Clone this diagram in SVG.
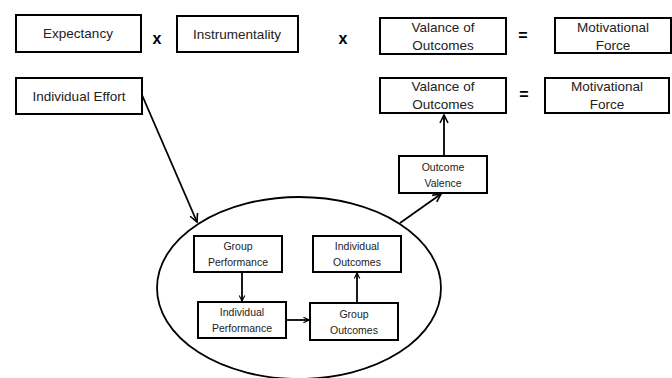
<svg xmlns="http://www.w3.org/2000/svg" width="672" height="378" viewBox="0 0 672 378">
<defs>
<style>
.box{fill:#fff;stroke:#000;stroke-width:2}
.t{font-family:"Liberation Sans","DejaVu Sans",sans-serif;font-size:13.5px;fill:#222;text-anchor:middle}
.s{font-family:"Liberation Sans","DejaVu Sans",sans-serif;font-size:10.5px;fill:#222;text-anchor:middle}
.op{font-family:"Liberation Sans","DejaVu Sans",sans-serif;font-size:16px;fill:#000;text-anchor:middle;font-weight:bold}
.c{fill:none;stroke:#000;stroke-width:1.8}
</style>
<marker id="ah" viewBox="0 0 10 10" refX="9" refY="5" markerWidth="7" markerHeight="7" orient="auto" markerUnits="userSpaceOnUse">
<path d="M1,1 L9,5 L1,9" fill="none" stroke="#000" stroke-width="1.6"/>
</marker>
<marker id="ah2" viewBox="0 0 10 10" refX="9" refY="5" markerWidth="10" markerHeight="10" orient="auto" markerUnits="userSpaceOnUse">
<path d="M1,1 L9,5 L1,9" fill="none" stroke="#000" stroke-width="1.6"/>
</marker>
</defs>
<rect width="672" height="378" fill="#fff"/>
<g id="group-ellipse"><ellipse cx="299" cy="288" rx="142" ry="91" fill="none" stroke="#000" stroke-width="1.8"/></g>
<g id="connectors">
<line class="c" x1="142" y1="95" x2="197" y2="222" marker-end="url(#ah2)"/>
<line class="c" x1="400" y1="223" x2="441" y2="194" marker-end="url(#ah2)"/>
<line class="c" x1="444" y1="156" x2="444" y2="115" marker-end="url(#ah2)"/>
<line class="c" x1="242" y1="272" x2="242" y2="301" marker-end="url(#ah)"/>
<line class="c" x1="286" y1="320" x2="309" y2="320" marker-end="url(#ah)"/>
<line class="c" x1="357" y1="303" x2="357" y2="273" marker-end="url(#ah)"/>
</g>
<g id="expectancy"><rect class="box" x="16" y="15" width="125" height="37"/><text class="t" x="78" y="38">Expectancy</text></g>
<text class="op" x="157" y="44">x</text>
<g id="instrumentality"><rect class="box" x="177" y="16" width="121" height="36"/><text class="t" x="237" y="39">Instrumentality</text></g>
<text class="op" x="343" y="44">x</text>
<g id="valance-top"><rect class="box" x="380" y="18" width="126" height="36"/><text class="t" x="443" y="32">Valance of</text><text class="t" x="443" y="50">Outcomes</text></g>
<text class="op" x="523" y="41">=</text>
<g id="motivational-top"><rect class="box" x="555" y="18" width="116" height="35"/><text class="t" x="613" y="32">Motivational</text><text class="t" x="613" y="50">Force</text></g>
<g id="individual-effort"><rect class="box" x="16" y="78" width="126" height="36"/><text class="t" x="79" y="101">Individual Effort</text></g>
<g id="valance-bottom"><rect class="box" x="380" y="78" width="126" height="35"/><text class="t" x="443" y="91">Valance of</text><text class="t" x="443" y="109">Outcomes</text></g>
<text class="op" x="524" y="100">=</text>
<g id="motivational-bottom"><rect class="box" x="545" y="78" width="124" height="35"/><text class="t" x="607" y="91">Motivational</text><text class="t" x="607" y="109">Force</text></g>
<g id="outcome-valence"><rect class="box" x="399" y="156" width="88" height="37"/><text class="s" x="443" y="171">Outcome</text><text class="s" x="443" y="187">Valence</text></g>
<g id="group-performance"><rect class="box" x="194" y="236" width="88" height="36"/><text class="s" x="238" y="250">Group</text><text class="s" x="238" y="266">Performance</text></g>
<g id="individual-outcomes"><rect class="box" x="313" y="236" width="88" height="36"/><text class="s" x="357" y="250">Individual</text><text class="s" x="357" y="266">Outcomes</text></g>
<g id="individual-performance"><rect class="box" x="198" y="302" width="88" height="36"/><text class="s" x="242" y="316">Individual</text><text class="s" x="242" y="332">Performance</text></g>
<g id="group-outcomes"><rect class="box" x="310" y="303" width="88" height="37"/><text class="s" x="354" y="318">Group</text><text class="s" x="354" y="334">Outcomes</text></g>
</svg>
